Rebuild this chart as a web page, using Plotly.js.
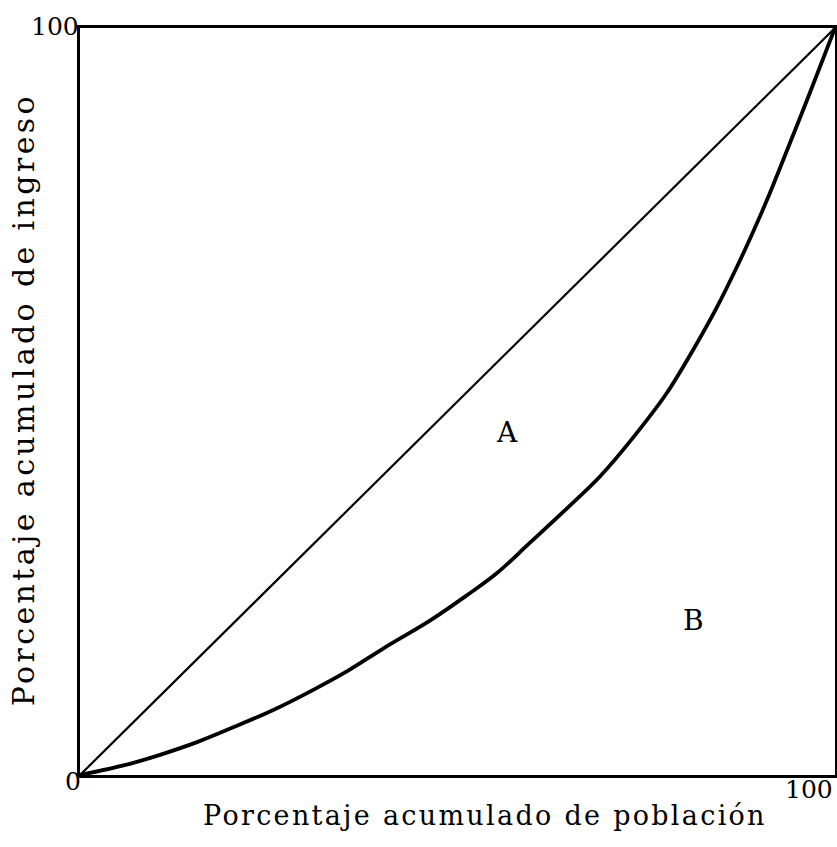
<!DOCTYPE html>
<html>
<head>
<meta charset="utf-8">
<script src="https://cdn.plot.ly/plotly-3.0.1.min.js"></script>
<style>
html,body{margin:0;padding:0;background:#fff;}
#chart{width:837px;height:847px;}
g.annotation[data-index="5"] text.annotation-text{letter-spacing:2.3px;}
g.annotation[data-index="6"] text.annotation-text{letter-spacing:3.4px;}
</style>
</head>
<body>
<div id="chart"></div>
<script>
// Diagonal of equality
const igualdadX = [0, 100];
const igualdadY = [0, 100];
// Lorenz curve (cumulative % population vs cumulative % income)
const poblacion = [0, 6.6, 10.6, 15.5, 20.8, 25.6, 30.9, 35.4, 40.1, 46.4, 51.3, 55.2, 59.6, 64.5, 68.9, 73.2, 77.7, 81.2, 84.4, 87.0, 89.1, 91.0, 93.4, 96.7, 100];
const ingreso   = [0, 1.5, 2.7, 4.4, 6.6, 8.7, 11.4, 13.9, 16.9, 20.7, 24.1, 27.0, 31.1, 35.7, 40.0, 45.1, 51.1, 56.9, 62.7, 68.0, 72.6, 77.0, 83.0, 91.4, 100];
// Region labels
const regionText = ["A", "B"];
const regionX = [56.6, 81.2];
const regionY = [45.9, 20.7];
// Axis labels
const xTitle = "Porcentaje acumulado de población";
const yTitle = "Porcentaje acumulado de ingreso";

const FONT = "DejaVu Serif, Liberation Serif, serif";

const traces = [
  {x: igualdadX, y: igualdadY, mode: "lines", line: {color: "#000", width: 2.2}, hoverinfo: "skip"},
  {x: poblacion, y: ingreso, mode: "lines", line: {color: "#000", width: 3.8, shape: "spline", smoothing: 1}, hoverinfo: "skip"}
];

const annotations = [];
for (let i = 0; i < regionText.length; i++) {
  annotations.push({x: regionX[i], y: regionY[i], xref: "x", yref: "y", text: regionText[i], showarrow: false,
    font: {family: FONT, size: 28, color: "#000"}});
}
annotations.push({x: 0, y: 100, xref: "x", yref: "y", text: "100", showarrow: false, xanchor: "right", yanchor: "middle", xshift: 1, yshift: 2,
  font: {family: FONT, size: 25, color: "#000"}});
annotations.push({x: 0, y: 0, xref: "x", yref: "y", text: "0", showarrow: false, xanchor: "right", yanchor: "middle", xshift: 3, yshift: -6,
  font: {family: FONT, size: 25, color: "#000"}});
annotations.push({x: 100, y: 0, xref: "x", yref: "y", text: "100", showarrow: false, xanchor: "right", yanchor: "top", xshift: 0, yshift: 2,
  font: {family: FONT, size: 25, color: "#000"}});
annotations.push({x: 0.536, y: -0.054, xref: "paper", yref: "paper", text: xTitle, showarrow: false, xanchor: "center", yanchor: "middle",
  font: {family: FONT, size: 27, color: "#000"}});
annotations.push({x: -0.076, y: 0.502, xref: "paper", yref: "paper", text: yTitle, showarrow: false, textangle: -90, xanchor: "center", yanchor: "middle",
  font: {family: FONT, size: 30, color: "#000"}});

const layout = {
  width: 837, height: 847,
  margin: {l: 80, r: 2, t: 28, b: 72},
  paper_bgcolor: "#fff", plot_bgcolor: "#fff",
  showlegend: false,
  xaxis: {range: [0, 100], showgrid: false, zeroline: false, showticklabels: false, ticks: "",
    showline: true, mirror: true, linecolor: "#000", linewidth: 3, fixedrange: true},
  yaxis: {range: [0, 100], showgrid: false, zeroline: false, showticklabels: false, ticks: "",
    showline: true, mirror: true, linecolor: "#000", linewidth: 3, fixedrange: true},
  annotations: annotations
};

Plotly.newPlot("chart", traces, layout, {staticPlot: true, displayModeBar: false});
</script>
</body>
</html>
